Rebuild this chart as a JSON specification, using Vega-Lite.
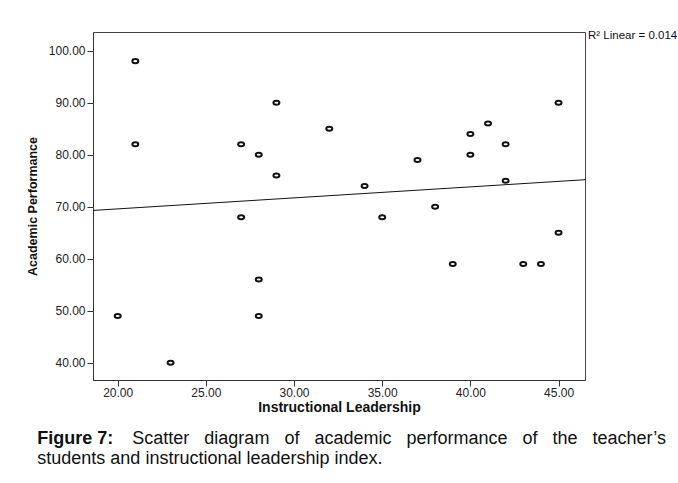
{
  "$schema": "https://vega.github.io/schema/vega-lite/v6.json",
  "width": 492,
  "height": 348,
  "padding": {"left": 26, "top": 30, "right": 0, "bottom": 0},
  "background": "white",
  "config": {
    "font": "Liberation Sans",
    "view": {"stroke": "#444", "strokeWidth": 1},
    "axis": {
      "grid": false,
      "domainColor": "#333",
      "tickColor": "#333",
      "tickSize": 6,
      "labelColor": "#222",
      "labelFontSize": 12,
      "labelFont": "Liberation Sans",
      "titleFont": "Liberation Sans",
      "titleFontWeight": "bold",
      "titleColor": "#111"
    }
  },
  "title": {
    "text": "Figure 7:",
    "subtitle": [
      "\u200b\u00a0\u00a0\u00a0\u00a0\u00a0\u00a0\u00a0\u00a0\u00a0\u00a0\u00a0\u00a0\u00a0\u00a0\u00a0\u00a0\u00a0\u00a0\u00a0Scatter\u00a0\u00a0\u00a0diagram\u00a0\u00a0\u00a0of\u00a0\u00a0\u00a0academic\u00a0\u00a0\u00a0performance\u00a0\u00a0\u00a0of\u00a0\u00a0\u00a0the\u00a0\u00a0\u00a0teacher’s",
      "students and instructional leadership index."
    ],
    "orient": "bottom",
    "anchor": "start",
    "frame": "bounds",
    "font": "Liberation Sans",
    "subtitleFont": "Liberation Sans",
    "fontSize": 18,
    "fontWeight": "bold",
    "subtitleFontSize": 18,
    "subtitleFontWeight": "normal",
    "subtitlePadding": -18,
    "subtitleLineHeight": 20,
    "color": "#111",
    "subtitleColor": "#111",
    "offset": 16,
    "dx": 11
  },
  "datasets": {
    "points": [
      {"leadership": 21, "performance": 98},
      {"leadership": 29, "performance": 90},
      {"leadership": 32, "performance": 85},
      {"leadership": 21, "performance": 82},
      {"leadership": 27, "performance": 82},
      {"leadership": 28, "performance": 80},
      {"leadership": 29, "performance": 76},
      {"leadership": 27, "performance": 68},
      {"leadership": 45, "performance": 90},
      {"leadership": 41, "performance": 86},
      {"leadership": 40, "performance": 84},
      {"leadership": 42, "performance": 82},
      {"leadership": 40, "performance": 80},
      {"leadership": 37, "performance": 79},
      {"leadership": 42, "performance": 75},
      {"leadership": 34, "performance": 74},
      {"leadership": 38, "performance": 70},
      {"leadership": 35, "performance": 68},
      {"leadership": 28, "performance": 56},
      {"leadership": 20, "performance": 49},
      {"leadership": 28, "performance": 49},
      {"leadership": 23, "performance": 40},
      {"leadership": 45, "performance": 65},
      {"leadership": 39, "performance": 59},
      {"leadership": 43, "performance": 59},
      {"leadership": 44, "performance": 59}
    ],
    "fit": [
      {"leadership": 18.6, "performance": 69.3},
      {"leadership": 46.5, "performance": 75.2}
    ],
    "note": [
      {"label": "R² Linear = 0.014"}
    ]
  },
  "layer": [
    {
      "data": {"name": "fit"},
      "mark": {"type": "line", "color": "#111", "strokeWidth": 1, "clip": true},
      "encoding": {
        "x": {
          "field": "leadership",
          "type": "quantitative",
          "title": "Instructional Leadership",
          "scale": {"domain": [18.6, 46.5], "nice": false, "zero": false},
          "axis": {"values": [20, 25, 30, 35, 40, 45], "format": ".2f", "titleFontSize": 14, "labelPadding": 1, "titlePadding": 2}
        },
        "y": {
          "field": "performance",
          "type": "quantitative",
          "title": "Academic Performance",
          "scale": {"domain": [36.7, 103.6], "nice": false, "zero": false},
          "axis": {"values": [40, 50, 60, 70, 80, 90, 100], "format": ".2f", "titleFontSize": 12.5, "labelPadding": 2, "titlePadding": 9}
        }
      }
    },
    {
      "data": {"name": "points"},
      "mark": {"type": "point", "shape": "M -1,0 A 1,0.67 0 1,1 1,0 A 1,0.67 0 1,1 -1,0 Z", "filled": false, "stroke": "#111", "strokeWidth": 2, "size": 36, "opacity": 1},
      "encoding": {
        "x": {"field": "leadership", "type": "quantitative"},
        "y": {"field": "performance", "type": "quantitative"}
      }
    },
    {
      "data": {"name": "note"},
      "mark": {"type": "text", "align": "left", "baseline": "middle", "dx": 3, "fontSize": 11.5, "color": "#111"},
      "encoding": {
        "x": {"datum": 46.5, "type": "quantitative"},
        "y": {"datum": 102.8, "type": "quantitative"},
        "text": {"field": "label"}
      }
    }
  ]
}
